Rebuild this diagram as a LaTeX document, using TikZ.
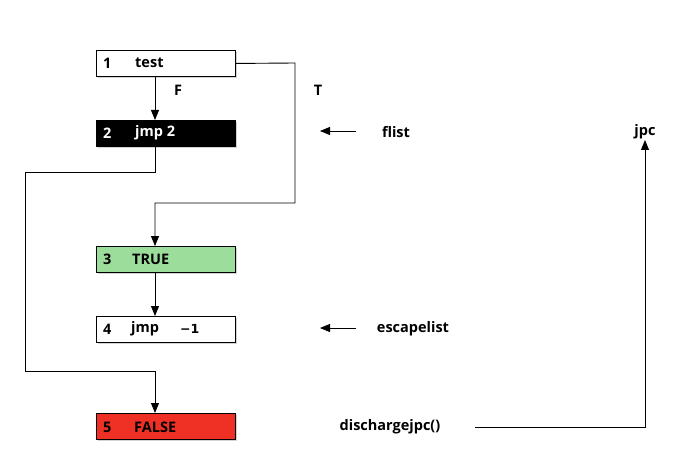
\documentclass[tikz,border=0pt]{standalone}
\usepackage{fontspec}
\setmainfont{Open Sans}
\usetikzlibrary{shadows,arrows.meta}
\definecolor{truegreen}{HTML}{9DDD9B}
\definecolor{falsered}{HTML}{EE3124}
\begin{document}
\begin{tikzpicture}[x=1pt,y=-1pt,
  box/.style={draw=black, line width=0.9pt, minimum width=139pt, minimum height=26pt, anchor=north west, inner sep=0pt,
    drop shadow={shadow xshift=1.5pt, shadow yshift=-1.5pt, opacity=0.35}},
  lbl/.style={font=\bfseries\fontsize{14.5}{16}\selectfont, inner sep=0pt},
  conn/.style={line width=0.9pt},
  arr/.style={conn, -{Triangle[length=10pt,width=8pt]}}]
\useasboundingbox (0,0) rectangle (680,476);
\node[box, fill=white] (b1) at (96,50) {};
\node[box, fill=black] (b2) at (96,120) {};
\node[box, fill=truegreen] (b3) at (96,246) {};
\node[box, fill=white] (b4) at (96,316) {};
\node[box, fill=falsered] (b5) at (96,413) {};
% box texts
\node[lbl, anchor=west] (n1) at (103,63) {1};
\node[lbl, anchor=west] (t1) at (135,63) {test};
\node[lbl, anchor=west, text=white] (n2) at (103,133) {2};
\node[lbl, anchor=west, text=white] (t2) at (135,133) {jmp 2};
\node[lbl, anchor=west] (n3) at (103,259) {3};
\node[lbl, anchor=west] (t3) at (132,259) {TRUE};
\node[lbl, anchor=west] (n4) at (103,329) {4};
\node[lbl, anchor=west] (t4) at (131,329) {jmp};
\node[lbl, anchor=west] (t4b) at (180,329) {\fontspec{DejaVu Sans}\bfseries\fontsize{12.5}{14}\selectfont −1};
\node[lbl, anchor=west] (n5) at (103,427) {5};
\node[lbl, anchor=west] (t5) at (134,427) {FALSE};
% side labels
\node[lbl] (F) at (178,90) {F};
\node[lbl] (T) at (318,90) {T};
\node[lbl] (flist) at (396,132) {flist};
\node[lbl] (esc) at (413,329) {escapelist};
\node[lbl] (dis) at (390,427) {dischargejpc()};
\node[lbl] (jpc) at (645,132) {jpc};
% coordinates
\coordinate (fa) at (356,131);
\coordinate (fb) at (320,131);
\coordinate (ea) at (356,328);
\coordinate (eb) at (320,328);
\coordinate (da) at (475,427);
\coordinate (db) at (645,427);
\coordinate (dc) at (645,140);
% connectors
\draw[arr] (b1.south -| 155,0) -- (b2.north -| 155,0);
\draw[arr] (b1.east) -- (295,63) -- (295,203) -- (155,203) -- (b3.north -| 155,0);
\draw[arr] (b2.south -| 155,0) -- (155,172) -- (25,172) -- (25,371) -- (155,371) -- (b5.north -| 155,0);
\draw[arr] (b3.south -| 155,0) -- (b4.north -| 155,0);
\draw[arr] (fa) -- (fb);
\draw[arr] (ea) -- (eb);
\draw[arr] (da) -- (db) -- (dc);
\end{tikzpicture}
\end{document}
